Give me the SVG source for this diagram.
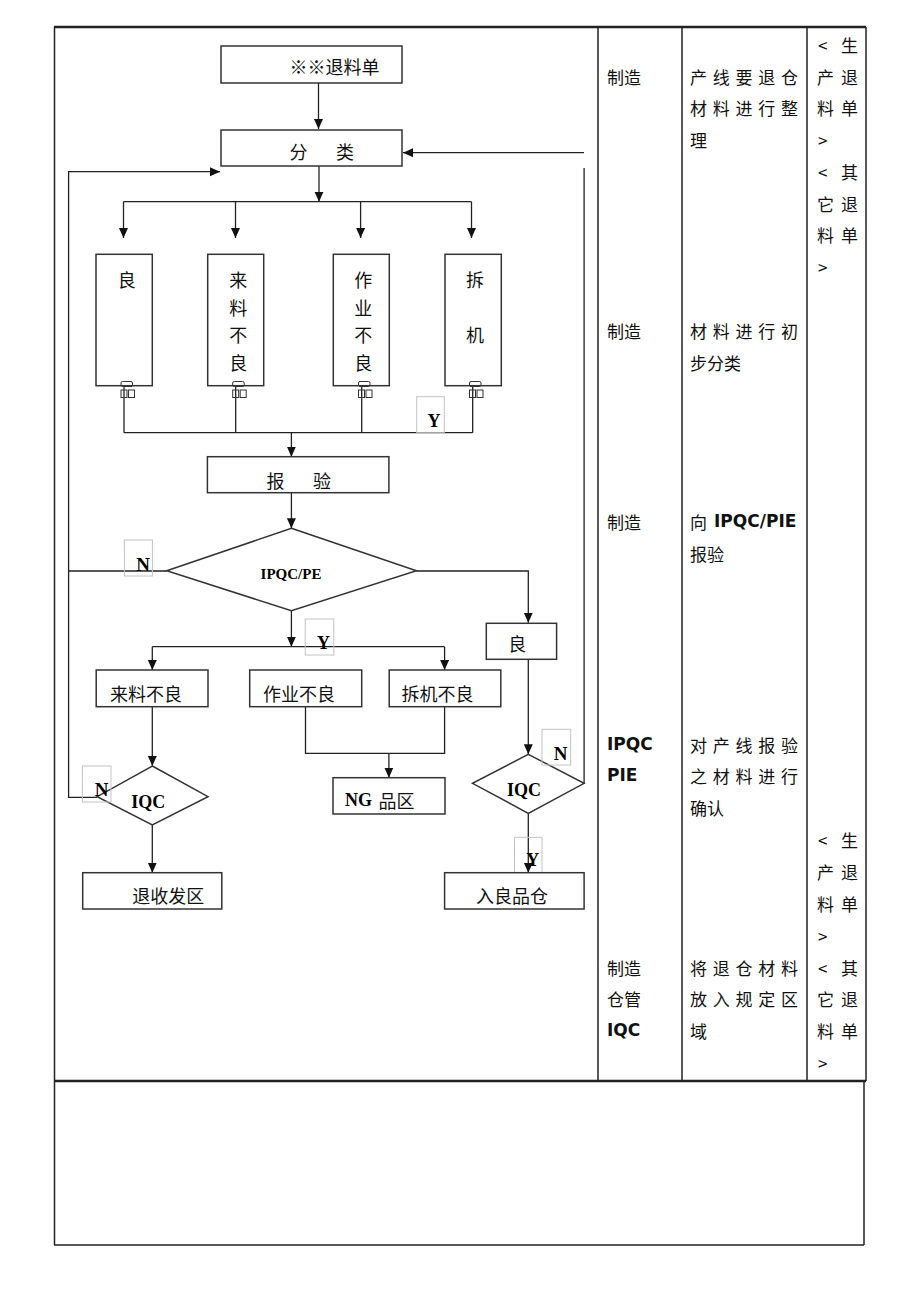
<svg xmlns="http://www.w3.org/2000/svg" width="920" height="1302" viewBox="0 0 920 1302">
<style>
.box{fill:#fff;stroke:#333;stroke-width:1.5}
.ln{fill:none;stroke:#222;stroke-width:1.3}
.arr{marker-end:url(#ah)}
.lbl{fill:none;stroke:#c4c4c4;stroke-width:1}
.mini{fill:none;stroke:#333;stroke-width:1}
.cjk{font-family:"Noto Sans CJK SC","Noto Sans",sans-serif;font-size:18px;fill:#111;dominant-baseline:central}
.ser{font-family:"Liberation Serif",serif;font-weight:bold;fill:#000;dominant-baseline:central}
.tb{font-family:"Noto Sans CJK SC","Noto Sans",sans-serif;font-size:17px;fill:#111;dominant-baseline:central}
.tbb{font-family:"DejaVu Sans",sans-serif;font-weight:bold;font-size:17px;fill:#111;dominant-baseline:central}
.tbl{stroke:#222;stroke-width:1.5;fill:none}
.tblk{stroke:#222;stroke-width:2.5;fill:none}
</style>
<defs>
<marker id="ah" markerWidth="10" markerHeight="10" refX="10" refY="4.5" orient="auto" markerUnits="userSpaceOnUse">
<path d="M0,0 L10,4.5 L0,9 z" fill="#111"/>
</marker>
</defs>
<rect width="920" height="1302" fill="#fff"/>

<g id="table">
<line class="tblk" x1="54" y1="27" x2="866" y2="27"/>
<line class="tbl" x1="54.5" y1="27" x2="54.5" y2="1245"/>
<line class="tbl" x1="866" y1="27" x2="866" y2="1081"/>
<line class="tblk" x1="54" y1="1081" x2="866" y2="1081"/>
<line class="tbl" x1="864" y1="1081" x2="864" y2="1245"/>
<line class="tbl" x1="54" y1="1245" x2="864" y2="1245"/>
<line class="tbl" x1="598" y1="27" x2="598" y2="1081"/>
<line class="tbl" x1="682" y1="27" x2="682" y2="1081"/>
<line class="tbl" x1="807" y1="27" x2="807" y2="1081"/>
</g>

<g id="col-owner">
<text class="tb" x="607" y="76">制造</text>
<text class="tb" x="607" y="330">制造</text>
<text class="tb" x="607" y="521">制造</text>
<text class="tbb" x="607" y="744">IPQC</text>
<text class="tbb" x="607" y="775">PIE</text>
<text class="tb" x="607" y="967">制造</text>
<text class="tb" x="607" y="998">仓管</text>
<text class="tbb" x="607" y="1030">IQC</text>
</g>

<g id="col-desc">
<text class="tb" x="690" y="76" textLength="108" lengthAdjust="spacing">产线要退仓</text>
<text class="tb" x="690" y="107" textLength="108" lengthAdjust="spacing">材料进行整</text>
<text class="tb" x="690" y="139">理</text>
<text class="tb" x="690" y="330" textLength="108" lengthAdjust="spacing">材料进行初</text>
<text class="tb" x="690" y="362">步分类</text>
<text class="tb" x="690" y="521">向</text>
<text class="tbb" x="714" y="521">IPQC/PIE</text>
<text class="tb" x="690" y="553">报验</text>
<text class="tb" x="690" y="744" textLength="108" lengthAdjust="spacing">对产线报验</text>
<text class="tb" x="690" y="775" textLength="108" lengthAdjust="spacing">之材料进行</text>
<text class="tb" x="690" y="807">确认</text>
<text class="tb" x="690" y="967" textLength="108" lengthAdjust="spacing">将退仓材料</text>
<text class="tb" x="690" y="998" textLength="108" lengthAdjust="spacing">放入规定区</text>
<text class="tb" x="690" y="1030">域</text>
</g>

<g id="col-form">
<text class="tb" x="818" y="44">&lt;</text><text class="tb" x="841" y="44">生</text>
<text class="tb" x="817" y="76">产</text><text class="tb" x="841" y="76">退</text>
<text class="tb" x="817" y="107">料</text><text class="tb" x="841" y="107">单</text>
<text class="tb" x="818" y="139">&gt;</text>
<text class="tb" x="818" y="171">&lt;</text><text class="tb" x="841" y="171">其</text>
<text class="tb" x="817" y="203">它</text><text class="tb" x="841" y="203">退</text>
<text class="tb" x="817" y="234">料</text><text class="tb" x="841" y="234">单</text>
<text class="tb" x="818" y="266">&gt;</text>
<text class="tb" x="818" y="839">&lt;</text><text class="tb" x="841" y="839">生</text>
<text class="tb" x="817" y="871">产</text><text class="tb" x="841" y="871">退</text>
<text class="tb" x="817" y="903">料</text><text class="tb" x="841" y="903">单</text>
<text class="tb" x="818" y="935">&gt;</text>
<text class="tb" x="818" y="967">&lt;</text><text class="tb" x="841" y="967">其</text>
<text class="tb" x="817" y="998">它</text><text class="tb" x="841" y="998">退</text>
<text class="tb" x="817" y="1030">料</text><text class="tb" x="841" y="1030">单</text>
<text class="tb" x="818" y="1062">&gt;</text>
</g>

<g id="connectors">
<path class="ln arr" d="M318.5,83 V129"/>
<path class="ln arr" d="M584,152.7 H403"/>
<path class="ln arr" d="M97,797.3 H68.6 V171.7 H220"/>
<path class="ln" d="M166.7,571 H68.6"/>
<path class="ln arr" d="M319,166 V201.7"/>
<path class="ln" d="M123.5,201.7 H471.5"/>
<path class="ln arr" d="M123.5,201.7 V238"/>
<path class="ln arr" d="M235.5,201.7 V238"/>
<path class="ln arr" d="M360.6,201.7 V238"/>
<path class="ln arr" d="M471.5,201.7 V238"/>
<path class="ln" d="M124,386 V432.7 M235.7,386 V432.7 M361.7,386 V432.7 M472.7,386 V432.7 M124,432.7 H472.7"/>
<path class="ln arr" d="M291.4,432.7 V456.7"/>
<path class="ln arr" d="M291.4,492.7 V528.3"/>
<path class="ln arr" d="M416.4,571 H528.3 V622.7"/>
<path class="ln arr" d="M291.4,610.7 V646.7"/>
<path class="ln" d="M152.3,646.7 H444.6"/>
<path class="ln arr" d="M152.3,646.7 V670"/>
<path class="ln arr" d="M444.6,646.7 V670"/>
<path class="ln arr" d="M152.3,706.7 V766"/>
<path class="ln arr" d="M152.3,825 V872.7"/>
<path class="ln" d="M305.5,706.7 V753.3 H444.6 V706.7"/>
<path class="ln arr" d="M388.9,753.3 V777.7"/>
<path class="ln arr" d="M528.3,659.3 V754.3"/>
<path class="ln arr" d="M528.3,813.3 V872.7"/>
<path class="ln" d="M584.1,783.3 V168"/>
</g>

<g id="n-tuiliaodan">
<rect class="box" x="221" y="46" width="181" height="37"/>
<text class="cjk" x="289.6" y="66">※※退料单</text>
</g>

<g id="n-fenlei">
<rect class="box" x="221" y="130" width="181" height="36"/>
<text class="cjk" x="289.5" y="151">分</text>
<text class="cjk" x="336" y="151">类</text>
</g>

<g id="n-liang1">
<rect class="box" x="96" y="254.3" width="56.3" height="131.4"/>
<text class="cjk" x="126.7" y="279" text-anchor="middle">良</text>
<rect class="mini" x="121" y="381.5" width="11.5" height="5" rx="1.5"/>
<rect class="mini" x="121" y="390" width="6" height="7.5"/><rect class="mini" x="128.5" y="390" width="6" height="7.5"/>
</g>

<g id="n-laoliao">
<rect class="box" x="207.7" y="254.3" width="56" height="131.4"/>
<text class="cjk" x="238.3" y="279" text-anchor="middle">来</text>
<text class="cjk" x="238.3" y="306.7" text-anchor="middle">料</text>
<text class="cjk" x="238.3" y="334.3" text-anchor="middle">不</text>
<text class="cjk" x="238.3" y="361.7" text-anchor="middle">良</text>
<rect class="mini" x="232.7" y="381.5" width="11.5" height="5" rx="1.5"/>
<rect class="mini" x="232.7" y="390" width="6" height="7.5"/><rect class="mini" x="240.2" y="390" width="6" height="7.5"/>
</g>

<g id="n-zuoye">
<rect class="box" x="333.3" y="254.3" width="56" height="131.4"/>
<text class="cjk" x="363.3" y="279" text-anchor="middle">作</text>
<text class="cjk" x="363.3" y="306.7" text-anchor="middle">业</text>
<text class="cjk" x="363.3" y="334.3" text-anchor="middle">不</text>
<text class="cjk" x="363.3" y="361.7" text-anchor="middle">良</text>
<rect class="mini" x="358.5" y="381.5" width="11.5" height="5" rx="1.5"/>
<rect class="mini" x="358.5" y="390" width="6" height="7.5"/><rect class="mini" x="366" y="390" width="6" height="7.5"/>
</g>

<g id="n-chaiji">
<rect class="box" x="445" y="254.3" width="56.3" height="131.4"/>
<text class="cjk" x="475" y="279" text-anchor="middle">拆</text>
<text class="cjk" x="475" y="334.3" text-anchor="middle">机</text>
<rect class="mini" x="469.5" y="381.5" width="11.5" height="5" rx="1.5"/>
<rect class="mini" x="469.5" y="390" width="6" height="7.5"/><rect class="mini" x="477" y="390" width="6" height="7.5"/>
</g>

<g id="lbl-y1">
<rect class="lbl" x="416.7" y="396.7" width="27.6" height="36"/>
<text class="ser" x="434" y="421" font-size="18" text-anchor="middle">Y</text>
</g>

<g id="n-baoyan">
<rect class="box" x="207.4" y="456.7" width="181.5" height="36"/>
<text class="cjk" x="266.6" y="480">报</text>
<text class="cjk" x="313" y="480">验</text>
</g>

<g id="n-ipqc">
<polygon class="box" points="291.4,528.3 416.4,570.7 291.4,610.7 166.7,570.7"/>
<text class="ser" x="291" y="573.5" font-size="15" text-anchor="middle">IPQC/PE</text>
</g>

<g id="lbl-n1">
<rect class="lbl" x="124.4" y="540" width="28" height="36"/>
<text class="ser" x="143" y="564" font-size="19" text-anchor="middle">N</text>
</g>

<g id="lbl-y2">
<rect class="lbl" x="305.2" y="619" width="28.6" height="36"/>
<text class="ser" x="323.4" y="643" font-size="18" text-anchor="middle">Y</text>
</g>

<g id="n-liang2">
<rect class="box" x="486.3" y="623.3" width="70.3" height="36"/>
<text class="cjk" x="517.3" y="643.3" text-anchor="middle">良</text>
</g>

<g id="n-laoliaobuliang">
<rect class="box" x="96.2" y="670" width="111.8" height="36.7"/>
<text class="cjk" x="110" y="693.3">来料不良</text>
</g>

<g id="n-zuoyebuliang">
<rect class="box" x="249.7" y="670" width="112" height="36.7"/>
<text class="cjk" x="263" y="693.3">作业不良</text>
</g>

<g id="n-chaijibuliang">
<rect class="box" x="389.2" y="670" width="111.6" height="36.7"/>
<text class="cjk" x="401.6" y="693.3">拆机不良</text>
</g>

<g id="n-iqc1">
<polygon class="box" points="152.3,766 208,796.7 152.3,825 97.2,796.7"/>
<text class="ser" x="148.3" y="802" font-size="18" text-anchor="middle">IQC</text>
</g>

<g id="lbl-n2">
<rect class="lbl" x="82.4" y="766" width="28.6" height="36"/>
<text class="ser" x="101.5" y="789.5" font-size="19" text-anchor="middle">N</text>
</g>

<g id="n-ng">
<rect class="box" x="333" y="777.7" width="112" height="36.3"/>
<text class="ser" x="345" y="800" font-size="18">NG</text>
<text class="cjk" x="378.5" y="800">品区</text>
</g>

<g id="n-iqc2">
<polygon class="box" points="528.3,754.3 584.1,783.3 528.3,813.3 472.5,783.3"/>
<text class="ser" x="524" y="789.5" font-size="18" text-anchor="middle">IQC</text>
</g>

<g id="lbl-n3">
<rect class="lbl" x="542" y="729.3" width="28.7" height="35.7"/>
<text class="ser" x="560.5" y="753.5" font-size="19" text-anchor="middle">N</text>
</g>

<g id="n-tuishoufa">
<rect class="box" x="82.7" y="872.7" width="139.1" height="36.3"/>
<text class="cjk" x="132.3" y="895">退收发区</text>
</g>

<g id="lbl-y3">
<rect class="lbl" x="514.5" y="837.3" width="27.5" height="35.4"/>
<text class="ser" x="532.8" y="860" font-size="18" text-anchor="middle">Y</text>
</g>

<g id="n-ruliangpin">
<rect class="box" x="444.6" y="872.7" width="139.5" height="36.3"/>
<text class="cjk" x="476" y="895">入良品仓</text>
</g>
</svg>
